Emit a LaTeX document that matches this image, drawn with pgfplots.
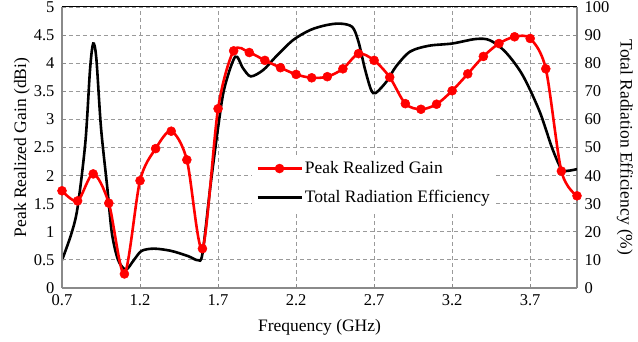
\documentclass[border=0pt]{standalone}
\usepackage{fontspec}
\setmainfont{Liberation Serif}
\usepackage{pgfplots}
\pgfplotsset{compat=1.18}

\definecolor{gridgray}{HTML}{9A9A9A}
\definecolor{axisgray}{HTML}{8A8A8A}

\tikzset{gridline/.style={gridgray, dash pattern=on 4pt off 3pt, line width=0.9pt}}

\pgfplotsset{
  common/.style={
    scale only axis,
    width=515pt, height=281pt,
    xmin=0.7, xmax=4.0,
    xtick={0.7,1.2,1.7,2.2,2.7,3.2,3.7},
    /pgf/number format/assume math mode=true,
    /pgf/number format/.cd, fixed, fixed zerofill, precision=1, /pgfplots/.cd,
    tick label style={font=\fontsize{16.5}{18}\selectfont},
    label style={font=\fontsize{17.5}{19}\selectfont},
    tick style={axisgray, line width=1pt},
    major tick length=4pt,
    major grid style={gridline},
  }
}

\begin{document}
\begin{tikzpicture}
\useasboundingbox (-62pt,-54pt) rectangle (576pt,288pt);
% Efficiency on the right-hand scale, with the dashed grid behind it
\begin{axis}[
  common,
  ymin=0, ymax=100,
  ytick={0,10,...,100},
  yticklabel style={/pgf/number format/precision=0, /pgf/number format/fixed zerofill=false, xshift=4pt},
  axis x line*=bottom,
  xticklabels={},
  x axis line style={axisgray, line width=1.5pt, -},
  axis y line*=right,
  y axis line style={axisgray, line width=1.5pt, -},
  ylabel={Total Radiation Efficiency (\%)},
  ylabel style={at={(axis description cs:1.093,0.5)}, anchor=center, rotate=180},
  xmajorgrids=true,
  ymajorgrids=true,
]
\pgfplotsinvokeforeach{1.2,1.7,2.2,2.7,3.2,3.7}{
  \addplot[gridline, forget plot] coordinates {(#1,0) (#1,100)};
}
\addplot[black, line width=2.6pt, smooth, tension=0.5] coordinates {
(0.70,9.9) (0.76,19.3) (0.80,28.7) (0.85,52) (0.88,78) (0.90,87) (0.92,81.7)
(0.95,57) (0.99,35.8) (1.02,19.4) (1.06,9.9) (1.11,6.6) (1.16,9.9) (1.21,13.2)
(1.29,14) (1.40,13.2) (1.51,11.3) (1.57,9.9) (1.60,12.2) (1.65,35.8) (1.70,57)
(1.74,71) (1.81,82.3) (1.86,78.2) (1.91,75.3) (1.99,77.6) (2.07,82.3) (2.18,88.2)
(2.29,91.8) (2.39,93.5) (2.48,94.1) (2.56,92.9) (2.60,87.6) (2.64,78.2) (2.68,70.6)
(2.71,69.4) (2.78,73.5) (2.84,78.8) (2.93,84.1) (3.05,86.2) (3.20,87) (3.35,88.6)
(3.44,88.2) (3.54,84.1) (3.65,75.9) (3.76,62.9) (3.84,49.9) (3.90,42.3) (3.94,41.7)
(4.00,42.3)
};
\end{axis}

% Gain on the left-hand scale
\begin{axis}[
  common,
  ymin=0, ymax=5,
  ytick={0,0.5,...,5},
  yticklabel style={/pgf/number format/fixed zerofill=false, /pgf/number format/precision=1, xshift=-4pt},
  xticklabel style={yshift=-3pt},
  axis y line*=left,
  axis x line*=bottom,
  axis line style={axisgray, line width=1.5pt, -},
  xlabel={Frequency (GHz)},
  xlabel style={at={(axis description cs:0.5,-0.141)}, anchor=center},
  ylabel={Peak Realized Gain (dBi)},
  ylabel style={at={(axis description cs:-0.078,0.5)}, anchor=center},
  legend cell align=left,
  legend style={
    at={(axis description cs:0.369,0.475)}, anchor=north west,
    draw=none, fill=white,
    font=\fontsize{17.5}{19}\selectfont,
    row sep=11pt, inner xsep=4pt, inner ysep=5pt,
  },
  legend image code/.code={
    \draw[#1, mark repeat=2, mark phase=2] plot coordinates {(0pt,0pt) (22pt,0pt) (44pt,0pt)};
  },
]
\draw[black, line width=1pt] (axis cs:0.7,5) -- (axis cs:4.0,5);
\addplot[red, line width=2.6pt, smooth, tension=0.5, mark=*, mark size=4.5pt,
  mark options={solid, fill=red, draw=red, line width=0.5pt}] coordinates {
(0.7,1.73) (0.8,1.55) (0.9,2.03) (1.0,1.51) (1.1,0.25) (1.2,1.91) (1.3,2.48)
(1.4,2.79) (1.5,2.28) (1.6,0.70) (1.7,3.19) (1.8,4.22) (1.9,4.19) (2.0,4.05)
(2.1,3.92) (2.2,3.80) (2.3,3.74) (2.4,3.76) (2.5,3.90) (2.6,4.17) (2.7,4.05)
(2.8,3.75) (2.9,3.28) (3.0,3.18) (3.1,3.27) (3.2,3.51) (3.3,3.81) (3.4,4.12)
(3.5,4.35) (3.6,4.47) (3.7,4.44) (3.8,3.90) (3.9,2.08) (4.0,1.64)
};
\addlegendentry{Peak Realized Gain}
\addlegendimage{black, line width=2.6pt}
\addlegendentry{Total Radiation Efficiency}
\end{axis}
\end{tikzpicture}
\end{document}
